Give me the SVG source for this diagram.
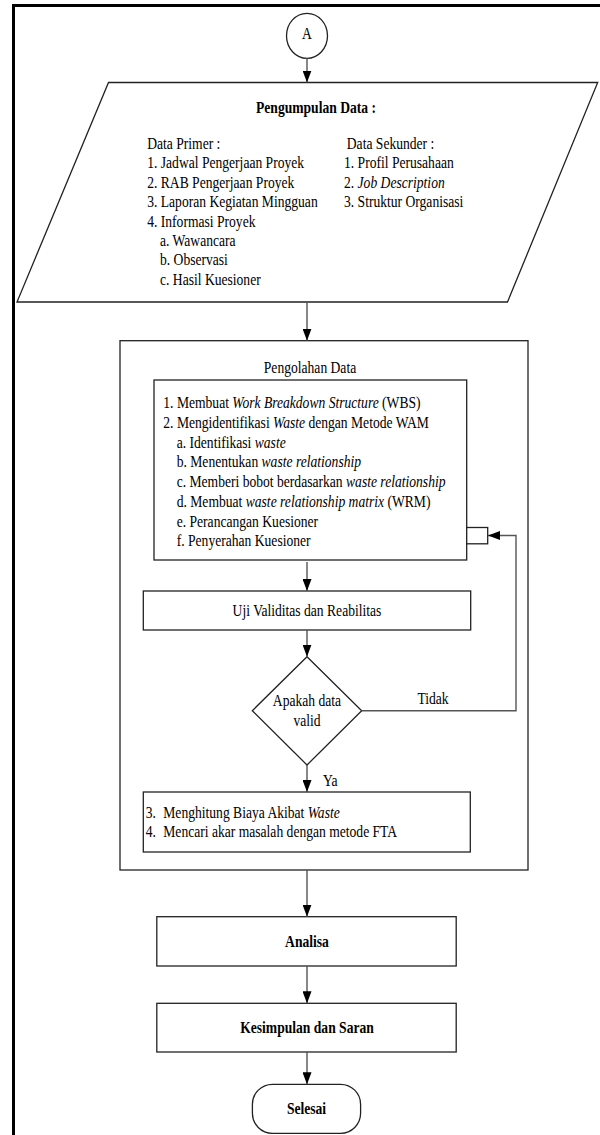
<svg xmlns="http://www.w3.org/2000/svg" width="600" height="1135" viewBox="0 0 600 1135">
<style>
text{font-family:"Liberation Serif","Times New Roman",Times,serif}
.t{font-size:16px;fill:#000}
.b{font-weight:bold}
.i{font-style:italic}
.m{text-anchor:middle}
.box{fill:#fff;stroke:#222;stroke-width:1.3}
.grp{fill:none;stroke:#222;stroke-width:1.3}
.cn{fill:none;stroke:#555;stroke-width:1.4}
</style>
<defs>
<marker id="ah" markerUnits="userSpaceOnUse" markerWidth="12" markerHeight="9" refX="12" refY="4.5" orient="auto">
<path d="M0,0 L12,4.5 L0,9 z" fill="#000"/>
</marker>
</defs>
<rect width="600" height="1135" fill="#fff"/>
<g id="frame">
<path d="M13.5,1135 V5.5 H600" fill="none" stroke="#000" stroke-width="3"/>
</g>
<g id="node-a">
<ellipse class="box" cx="307" cy="35.8" rx="20.5" ry="22.5"/>
<text class="t m" transform="translate(307,39) scale(0.85,1)">A</text>
</g>
<g id="node-pengumpulan">
<path class="box" d="M108.5,82.5 H597.7 L507.5,302 H17 Z"/>
<text class="t b m" transform="translate(316,112.5) scale(0.85,1)">Pengumpulan Data :</text>
<text class="t" transform="translate(147.2,149) scale(0.85,1)">Data Primer :</text>
<text class="t" transform="translate(147.2,168.4) scale(0.85,1)">1. Jadwal Pengerjaan Proyek</text>
<text class="t" transform="translate(147.2,187.8) scale(0.85,1)">2. RAB Pengerjaan Proyek</text>
<text class="t" transform="translate(147.2,207.2) scale(0.85,1)">3. Laporan Kegiatan Mingguan</text>
<text class="t" transform="translate(147.2,226.6) scale(0.85,1)">4. Informasi Proyek</text>
<text class="t" transform="translate(160,246) scale(0.85,1)">a. Wawancara</text>
<text class="t" transform="translate(160,265.4) scale(0.85,1)">b. Observasi</text>
<text class="t" transform="translate(160,284.8) scale(0.85,1)">c. Hasil Kuesioner</text>
<text class="t" transform="translate(346.8,149) scale(0.85,1)">Data Sekunder :</text>
<text class="t" transform="translate(344,168.4) scale(0.85,1)">1. Profil Perusahaan</text>
<text class="t" transform="translate(344,187.8) scale(0.85,1)">2. <tspan class="i">Job Description</tspan></text>
<text class="t" transform="translate(344,207.2) scale(0.85,1)">3. Struktur Organisasi</text>
</g>
<g id="node-pengolahan">
<rect class="grp" x="120" y="340.7" width="408" height="529.3"/>
<text class="t m" transform="translate(310,372.7) scale(0.85,1)">Pengolahan Data</text>
</g>
<g id="node-wbs">
<rect class="box" x="154" y="380" width="312.7" height="180"/>
<rect class="box" x="466.7" y="527.5" width="21" height="16.3"/>
<text class="t" transform="translate(163.3,408.3) scale(0.85,1)">1. Membuat <tspan class="i">Work Breakdown Structure</tspan> (WBS)</text>
<text class="t" transform="translate(163.3,428) scale(0.85,1)">2. Mengidentifikasi <tspan class="i">Waste</tspan> dengan Metode WAM</text>
<text class="t" transform="translate(176.7,447.7) scale(0.85,1)">a. Identifikasi <tspan class="i">waste</tspan></text>
<text class="t" transform="translate(176.7,467.4) scale(0.85,1)">b. Menentukan <tspan class="i">waste relationship</tspan></text>
<text class="t" transform="translate(176.7,487.1) scale(0.85,1)">c. Memberi bobot berdasarkan <tspan class="i">waste relationship</tspan></text>
<text class="t" transform="translate(176.7,506.8) scale(0.85,1)">d. Membuat <tspan class="i">waste relationship matrix</tspan> (WRM)</text>
<text class="t" transform="translate(176.7,526.5) scale(0.85,1)">e. Perancangan Kuesioner</text>
<text class="t" transform="translate(176.7,546.2) scale(0.85,1)">f. Penyerahan Kuesioner</text>
</g>
<g id="node-uji">
<rect class="box" x="143.3" y="591" width="327.4" height="39"/>
<text class="t m" transform="translate(307,616) scale(0.85,1)">Uji Validitas dan Reabilitas</text>
</g>
<g id="node-valid">
<path class="box" d="M307,656.7 L361.7,710.7 L307,765 L252.3,710.7 Z"/>
<text class="t m" transform="translate(307,706) scale(0.85,1)">Apakah data</text>
<text class="t m" transform="translate(307,725.7) scale(0.85,1)">valid</text>
</g>
<g id="node-biaya">
<rect class="box" x="143.3" y="792" width="327" height="60"/>
<text class="t" transform="translate(145.7,818) scale(0.85,1)">3.<tspan x="20.7">Menghitung Biaya Akibat <tspan class="i">Waste</tspan></tspan></text>
<text class="t" transform="translate(145.7,837) scale(0.85,1)">4.<tspan x="20.7">Mencari akar masalah dengan metode FTA</tspan></text>
</g>
<g id="node-analisa">
<rect class="box" x="156.8" y="916.7" width="299.4" height="49.3"/>
<text class="t b m" transform="translate(307,947) scale(0.85,1)">Analisa</text>
</g>
<g id="node-kesimpulan">
<rect class="box" x="156.8" y="1003.3" width="299.4" height="48.7"/>
<text class="t b m" transform="translate(307,1033) scale(0.85,1)">Kesimpulan dan Saran</text>
</g>
<g id="node-selesai">
<rect class="box" x="252.4" y="1084.3" width="108.2" height="49" rx="20" ry="20"/>
<text class="t b m" transform="translate(306.5,1114) scale(0.85,1)">Selesai</text>
</g>
<g id="connectors">
<path class="cn" d="M307,58.3 V82.5" marker-end="url(#ah)"/>
<path class="cn" d="M307,302 V340.7" marker-end="url(#ah)"/>
<path class="cn" d="M307,562 V591" marker-end="url(#ah)"/>
<path class="cn" d="M307,630 V656.7" marker-end="url(#ah)"/>
<path class="cn" d="M361.7,710.7 H516 V535.5 H488" marker-end="url(#ah)"/>
<path class="cn" d="M307,765 V792" marker-end="url(#ah)"/>
<path class="cn" d="M307,870 V916.7" marker-end="url(#ah)"/>
<path class="cn" d="M307,966 V1003.3" marker-end="url(#ah)"/>
<path class="cn" d="M307,1052 V1084.3" marker-end="url(#ah)"/>
<text class="t" transform="translate(433,704) scale(0.85,1)" text-anchor="middle">Tidak</text>
<text class="t" transform="translate(323,785.5) scale(0.85,1)">Ya</text>
</g>
</svg>
